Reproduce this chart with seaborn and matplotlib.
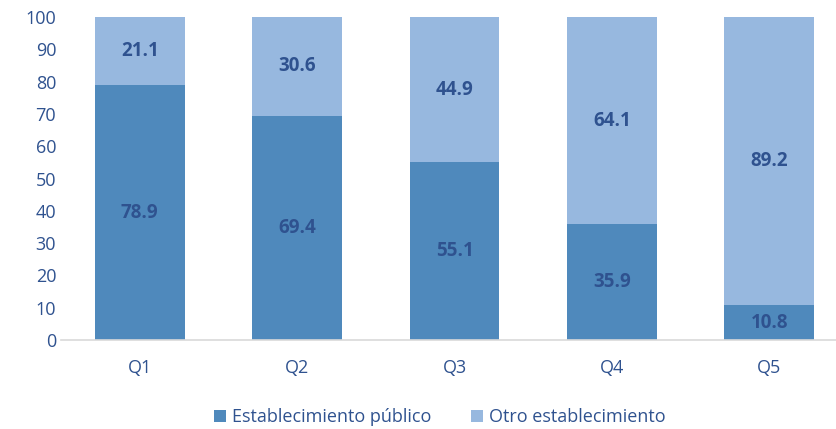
import pandas as pd
import seaborn as sns
import matplotlib.pyplot as plt

sns.set_style("white")
plt.rcParams['font.family'] = ['Open Sans', 'DejaVu Sans']

# data
quintiles = ["Q1", "Q2", "Q3", "Q4", "Q5"]
publico = [78.9, 69.4, 55.1, 35.9, 10.8]
otro = [21.1, 30.6, 44.9, 64.1, 89.2]

dark = "#4F89BC"
light = "#97B8DF"
text_c = "#2F528F"

df = pd.DataFrame({"Q": quintiles, "publico": publico, "otro": otro})
df["total"] = df["publico"] + df["otro"]

fig = plt.figure(figsize=(8.37, 4.29), dpi=100)
ax = fig.add_axes([61 / 837, 89 / 429, 776 / 837, 323 / 429])

# top segment drawn as full stack, bottom segment on top of it
sns.barplot(data=df, x="Q", y="total", color=light, width=0.571,
            saturation=1, ax=ax, label="Otro establecimiento", linewidth=0)
sns.barplot(data=df, x="Q", y="publico", color=dark, width=0.571,
            saturation=1, ax=ax, label="Establecimiento público", linewidth=0)

for i, row in df.iterrows():
    ax.text(i, row["publico"] / 2, f"{row['publico']:.1f}", ha="center", va="center",
            color=text_c, fontsize=13.5, fontweight="bold")
    ax.text(i, row["publico"] + row["otro"] / 2, f"{row['otro']:.1f}", ha="center",
            va="center", color=text_c, fontsize=13.5, fontweight="bold")

ax.set_ylim(0, 100)
ax.set_xlim(-0.5, 4.43)
ax.set_yticks(range(0, 101, 10))
ax.set_xlabel("")
ax.set_ylabel("")
ax.tick_params(axis="both", colors=text_c, labelsize=13, length=0)
ax.tick_params(axis="x", pad=14)
for s in ["top", "right", "left"]:
    ax.spines[s].set_visible(False)
ax.spines["bottom"].set_color("#D9D9D9")
ax.spines["bottom"].set_linewidth(1.2)

handles, labels = ax.get_legend_handles_labels()
if ax.get_legend() is not None:
    ax.get_legend().remove()
order = [labels.index("Establecimiento público"), labels.index("Otro establecimiento")]
leg = fig.legend([handles[k] for k in order], [labels[k] for k in order],
                 loc="center", bbox_to_anchor=(0.525, 0.027), ncol=2, frameon=False,
                 fontsize=13, handlelength=0.7, handleheight=0.7, columnspacing=2.2,
                 handletextpad=0.3)
for t in leg.get_texts():
    t.set_color(text_c)

plt.savefig("out.png", dpi=100)
